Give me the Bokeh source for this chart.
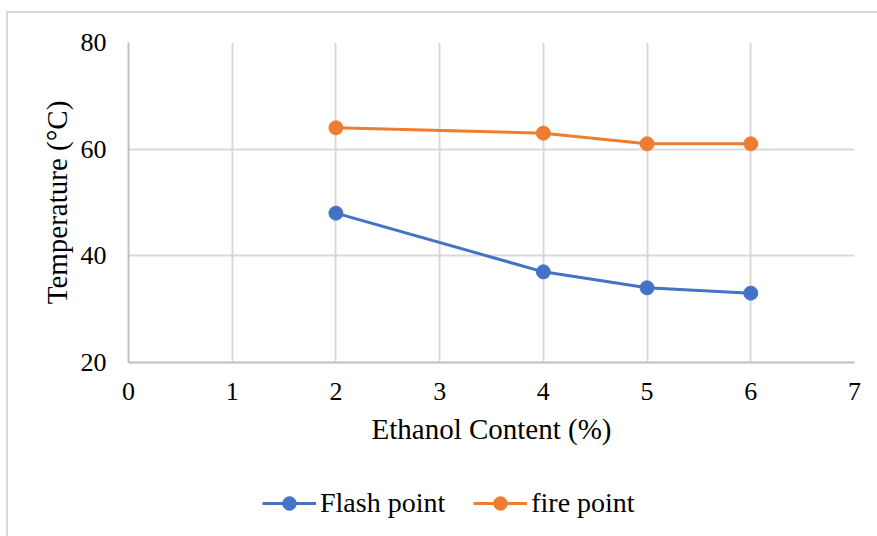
from bokeh.plotting import figure
from bokeh.layouts import column
from bokeh.models import FixedTicker, Legend, LegendItem, Range1d
from bokeh.embed import file_html
from bokeh.resources import INLINE

ethanol = [2, 4, 5, 6]
flash_point = [48, 37, 34, 33]
fire_point = [64, 63, 61, 61]
x_ticks = [0, 1, 2, 3, 4, 5, 6, 7]
y_ticks = [20, 40, 60, 80]
series_names = ["Flash point", "fire point"]

FONT = "Liberation Serif"
BLUE = "#4472C4"
ORANGE = "#ED7D31"
GRID = "#d9d9d9"

p = figure(width=869, height=457, output_backend="svg", toolbar_location=None,
           x_range=Range1d(0, 7), y_range=Range1d(20, 80),
           min_border_left=120, min_border_right=23, min_border_top=29, min_border_bottom=108)
p.outline_line_color = None
p.background_fill_color = "white"
p.border_fill_color = "white"

for ax in (p.xaxis[0], p.yaxis[0]):
    ax.axis_line_color = "#bfbfbf"
    ax.axis_line_width = 2
    ax.major_tick_line_color = None
    ax.minor_tick_line_color = None
    ax.major_label_text_font = FONT
    ax.major_label_text_font_size = "26px"
    ax.major_label_text_color = "#000000"
    ax.axis_label_text_font = FONT
    ax.axis_label_text_font_size = "29px"
    ax.axis_label_text_font_style = "normal"
    ax.axis_label_text_color = "#000000"

p.xaxis.ticker = FixedTicker(ticks=x_ticks)
p.yaxis.ticker = FixedTicker(ticks=y_ticks)
p.xaxis.axis_label = "Ethanol Content (%)"
p.yaxis.axis_label = "Temperature (°C)"
p.xaxis.major_label_standoff = 14
p.yaxis.major_label_standoff = 16
p.xaxis.axis_label_standoff = 10
p.yaxis.axis_label_standoff = 5

p.xgrid.grid_line_color = GRID
p.ygrid.grid_line_color = GRID
p.xgrid.grid_line_width = 2
p.ygrid.grid_line_width = 2

p.line(ethanol, flash_point, line_color=BLUE, line_width=3)
p.scatter(ethanol, flash_point, size=14, fill_color=BLUE, line_color=BLUE)
p.line(ethanol, fire_point, line_color=ORANGE, line_width=3)
p.scatter(ethanol, fire_point, size=14, fill_color=ORANGE, line_color=ORANGE)

# legend strip below the chart (its own renderers lie outside its ranges)
q = figure(width=869, height=66, output_backend="svg", toolbar_location=None,
           x_range=Range1d(100, 101), y_range=Range1d(100, 101),
           min_border_left=0, min_border_right=0, min_border_top=0, min_border_bottom=0)
q.axis.visible = False
q.grid.visible = False
q.outline_line_color = None
q.border_fill_color = "white"
ql1 = q.line(ethanol, flash_point, line_color=BLUE, line_width=3)
qs1 = q.scatter(ethanol, flash_point, size=14, fill_color=BLUE, line_color=BLUE)
ql2 = q.line(ethanol, fire_point, line_color=ORANGE, line_width=3)
qs2 = q.scatter(ethanol, fire_point, size=14, fill_color=ORANGE, line_color=ORANGE)

legend = Legend(items=[LegendItem(label=series_names[0], renderers=[ql1, qs1]),
                       LegendItem(label=series_names[1], renderers=[ql2, qs2])],
                orientation="horizontal", location=(134, 16),
                label_text_font=FONT, label_text_font_size="28px",
                label_text_color="#000000", glyph_width=54, glyph_height=34,
                spacing=28, label_standoff=4, border_line_color=None,
                background_fill_alpha=0, margin=0, padding=0)
q.add_layout(legend, "center")

layout = column(p, q, spacing=0, margin=(11, 0, 0, 6),
                styles={"border-top": "2px solid #d9d9d9", "border-left": "2px solid #d9d9d9"})
open("out.html", "w").write(file_html(layout, INLINE))
